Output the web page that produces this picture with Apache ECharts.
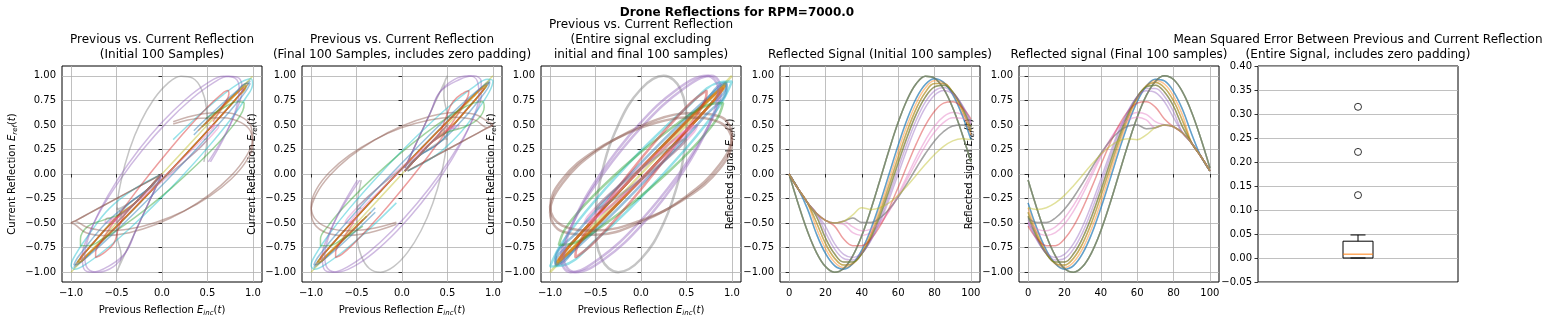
<!DOCTYPE html>
<html><head><meta charset="utf-8">
<script src="https://cdn.jsdelivr.net/npm/echarts@6/dist/echarts.min.js"></script>
<style>html,body{margin:0;padding:0;background:#fff}#c{width:1551px;height:324px}</style>
</head><body><div id="c"></div>
<script>
// ---------------- DATA ----------------
// sample index of each stored point (initial / final 100-sample windows)
const sampleIndex = [0,5,10,15,20,25,30,35,40,45,50,55,60,65,70,75,80,85,90,95,100];
// phase (deg) of the stored points for one cycle of the middle part of the signal
const phaseDeg = [0,30,60,90,120,150,180,210,240,270,300,330,360];

// Reflection waveforms (one row per distinct reflection shape)
const initialByShape = [
  [0,-0.303,-0.578,-0.798,-0.943,-1.000,-0.962,-0.834,-0.627,-0.361,-0.062,0.244,0.526,0.759,0.921,0.996,0.977,0.866,0.674,0.418,0.123],
  [0,-0.152,-0.350,-0.608,-0.809,-0.933,-0.970,-0.915,-0.774,-0.560,-0.294,0.000,0.294,0.560,0.774,0.915,0.970,0.933,0.809,0.608,0.350],
  [0,-0.152,-0.289,-0.551,-0.760,-0.899,-0.953,-0.917,-0.795,-0.598,-0.344,-0.059,0.233,0.501,0.723,0.878,0.949,0.931,0.825,0.642,0.398],
  [0,-0.152,-0.289,-0.491,-0.708,-0.858,-0.928,-0.910,-0.807,-0.628,-0.390,-0.115,0.171,0.441,0.669,0.834,0.921,0.921,0.834,0.669,0.441],
  [0,-0.152,-0.289,-0.430,-0.652,-0.813,-0.897,-0.897,-0.813,-0.652,-0.430,-0.167,0.112,0.380,0.612,0.786,0.887,0.904,0.836,0.690,0.478],
  [0,-0.152,-0.289,-0.399,-0.594,-0.763,-0.861,-0.877,-0.811,-0.669,-0.464,-0.215,0.054,0.318,0.552,0.734,0.847,0.881,0.831,0.703,0.509],
  [0,-0.152,-0.289,-0.399,-0.533,-0.709,-0.818,-0.850,-0.802,-0.678,-0.491,-0.258,0.000,0.258,0.491,0.678,0.802,0.850,0.818,0.709,0.533],
  [0,-0.152,-0.289,-0.399,-0.472,-0.531,-0.662,-0.730,-0.730,-0.662,-0.531,-0.350,-0.136,0.091,0.309,0.498,0.640,0.722,0.736,0.681,0.561],
  [0,-0.152,-0.289,-0.399,-0.472,-0.500,-0.512,-0.598,-0.627,-0.598,-0.512,-0.378,-0.208,-0.019,0.172,0.346,0.489,0.585,0.626,0.608,0.533],
  [0,-0.152,-0.289,-0.399,-0.472,-0.500,-0.481,-0.539,-0.577,-0.561,-0.491,-0.376,-0.225,-0.053,0.124,0.289,0.427,0.525,0.574,0.568,0.509],
  [0,-0.152,-0.289,-0.399,-0.472,-0.500,-0.481,-0.448,-0.494,-0.494,-0.448,-0.359,-0.237,-0.092,0.061,0.209,0.337,0.433,0.488,0.498,0.461],
  [0,-0.152,-0.289,-0.399,-0.472,-0.500,-0.481,-0.417,-0.344,-0.361,-0.344,-0.295,-0.218,-0.120,-0.011,0.099,0.199,0.281,0.337,0.360,0.350]
];
const finalByShape = [
  [-0.062,-0.361,-0.627,-0.834,-0.962,-1.000,-0.943,-0.798,-0.578,-0.303,0.000,0.303,0.578,0.798,0.943,1.000,0.962,0.834,0.627,0.361,0.062],
  [-0.294,-0.561,-0.774,-0.915,-0.970,-0.933,-0.809,-0.608,-0.350,-0.060,0.237,0.510,0.736,0.893,0.966,0.948,0.840,0.654,0.405,0.181,0.031],
  [-0.344,-0.597,-0.794,-0.917,-0.953,-0.899,-0.760,-0.551,-0.289,0.000,0.289,0.551,0.760,0.899,0.953,0.917,0.794,0.597,0.313,0.181,0.031],
  [-0.390,-0.628,-0.807,-0.910,-0.928,-0.858,-0.708,-0.491,-0.227,0.057,0.337,0.584,0.777,0.896,0.932,0.879,0.744,0.539,0.313,0.181,0.031],
  [-0.430,-0.652,-0.813,-0.897,-0.897,-0.813,-0.652,-0.430,-0.167,0.112,0.380,0.612,0.786,0.887,0.904,0.836,0.690,0.478,0.313,0.181,0.031],
  [-0.464,-0.669,-0.811,-0.877,-0.861,-0.763,-0.594,-0.368,-0.108,0.162,0.417,0.633,0.789,0.871,0.871,0.789,0.633,0.417,0.313,0.181,0.031],
  [-0.491,-0.678,-0.802,-0.850,-0.818,-0.709,-0.533,-0.307,-0.053,0.207,0.447,0.645,0.783,0.847,0.830,0.736,0.573,0.417,0.313,0.181,0.031],
  [-0.531,-0.662,-0.730,-0.730,-0.662,-0.531,-0.350,-0.136,0.091,0.309,0.498,0.640,0.722,0.736,0.681,0.561,0.481,0.417,0.313,0.181,0.031],
  [-0.512,-0.598,-0.627,-0.598,-0.512,-0.378,-0.208,-0.019,0.172,0.346,0.489,0.585,0.626,0.608,0.533,0.500,0.481,0.417,0.313,0.181,0.031],
  [-0.491,-0.561,-0.577,-0.539,-0.450,-0.319,-0.158,0.018,0.192,0.348,0.472,0.551,0.578,0.551,0.472,0.500,0.481,0.417,0.313,0.181,0.031],
  [-0.448,-0.494,-0.494,-0.448,-0.359,-0.237,-0.092,0.061,0.209,0.337,0.433,0.488,0.498,0.461,0.472,0.500,0.481,0.417,0.313,0.181,0.031],
  [-0.344,-0.361,-0.344,-0.295,-0.218,-0.120,-0.011,0.099,0.199,0.281,0.337,0.360,0.350,0.399,0.472,0.500,0.481,0.417,0.313,0.181,0.031]
];
const middleByShape = [
  [0,-0.5,-0.866,-1,-0.866,-0.5,0,0.5,0.866,1,0.866,0.5,0],
  [0.237,-0.265,-0.697,-0.941,-0.933,-0.675,-0.237,0.265,0.697,0.941,0.933,0.675,0.237],
  [0.289,-0.204,-0.642,-0.908,-0.931,-0.705,-0.289,0.204,0.642,0.908,0.931,0.705,0.289],
  [0.337,-0.143,-0.584,-0.869,-0.921,-0.726,-0.337,0.143,0.584,0.869,0.921,0.726,0.337],
  [0.380,-0.084,-0.525,-0.825,-0.904,-0.741,-0.380,0.084,0.525,0.825,0.904,0.741,0.380],
  [0.417,-0.027,-0.464,-0.776,-0.881,-0.749,-0.417,0.027,0.464,0.776,0.881,0.749,0.417],
  [0.447,0.026,-0.402,-0.723,-0.850,-0.749,-0.447,-0.026,0.402,0.723,0.850,0.749,0.447],
  [0.498,0.158,-0.224,-0.546,-0.722,-0.704,-0.498,-0.158,0.224,0.546,0.722,0.704,0.498],
  [0.489,0.226,-0.096,-0.393,-0.585,-0.620,-0.489,-0.226,0.096,0.393,0.585,0.620,0.489],
  [0.472,0.242,-0.053,-0.334,-0.525,-0.576,-0.472,-0.242,0.053,0.334,0.525,0.576,0.472],
  [0.433,0.250,0.000,-0.250,-0.433,-0.500,-0.433,-0.250,0.000,0.250,0.433,0.500,0.433],
  [0.337,0.226,0.055,-0.130,-0.281,-0.357,-0.337,-0.226,-0.055,0.130,0.281,0.357,0.337]
];
// which shape each successive reflection has
const reflectionShape = [1,2,3,4,5,0,8,10,0,0,1,3,4,7,6,0,9,10,11];

// MSE box plot: [lower whisker, Q1, median, Q3, upper whisker] and outliers
const mseBoxStats = [0.000, 0.000, 0.008, 0.035, 0.048];
const mseOutliers = [0.131, 0.221, 0.315];

// tick values
const phaseTicks = [-1, -0.5, 0, 0.5, 1];
const ampTicks = [-1, -0.75, -0.5, -0.25, 0, 0.25, 0.5, 0.75, 1];
const sampleTicks = [0, 20, 40, 60, 80, 100];

// texts
const suptitle = 'Drone Reflections for RPM=7000.0';
const panelTitles = [
  'Previous vs. Current Reflection\n(Initial 100 Samples)',
  'Previous vs. Current Reflection\n(Final 100 Samples, includes zero padding)',
  'Previous vs. Current Reflection\n(Entire signal excluding\ninitial and final 100 samples)',
  'Reflected Signal (Initial 100 samples)',
  'Reflected signal (Final 100 samples)',
  'Mean Squared Error Between Previous and Current Reflection\n(Entire Signal, includes zero padding)'
];

// ---------------- STYLE / LAYOUT ----------------
const FONT = 'DejaVu Sans';
const tab10 = ['#1f77b4','#ff7f0e','#2ca02c','#d62728','#9467bd','#8c564b','#e377c2','#7f7f7f','#bcbd22','#17becf'];
const gridLeft = [62, 302, 541, 780, 1019, 1258];
const GT = 66, GW = 200, GH = 216;

const nameRich = {
  n: {fontSize: 10, fontFamily: FONT, color: '#000', lineHeight: 14},
  e: {fontSize: 10, fontFamily: FONT, fontStyle: 'italic', color: '#000', lineHeight: 14},
  s: {fontSize: 7, fontFamily: FONT, fontStyle: 'italic', color: '#000', lineHeight: 8, verticalAlign: 'bottom'}
};
const xName = '{n|Previous Reflection }{e|E}{s|inc}{n|(}{e|t}{n|)}';
const yNameCur = '{n|Current Reflection }{e|E}{s|ref}{n|(}{e|t}{n|)}';
const yNameSig = '{n|Reflected signal }{e|E}{s|ref}{n|(}{e|t}{n|)}';

function fmt(d) {
  return v => { if (Math.abs(v) < 1e-9) v = 0; return v.toFixed(d).replace('-', '\u2212'); };
}
function valAxis(gi, min, max, ticks, dec, extra) {
  return Object.assign({
    type: 'value', gridIndex: gi, min: min, max: max,
    axisLine: {show: false},
    axisTick: {show: true, customValues: ticks, length: 3.5, lineStyle: {color: '#000', width: 0.8}},
    axisLabel: {customValues: ticks, formatter: fmt(dec), fontSize: 10, color: '#000', fontFamily: FONT, margin: 6},
    splitLine: {show: true, lineStyle: {color: '#b0b0b0', width: 0.8}}
  }, extra || {});
}

const grids = gridLeft.map(l => ({left: l, top: GT, width: GW, height: GH, show: true,
  borderColor: '#000', borderWidth: 1, backgroundColor: 'transparent', containLabel: false, outerBoundsMode: 'none'}));

const xAxes = [], yAxes = [];
for (let i = 0; i < 3; i++) {
  xAxes.push(valAxis(i, -1.1, 1.1, phaseTicks, 1, {name: xName, nameLocation: 'middle', nameGap: 21, nameTextStyle: {rich: nameRich}}));
  yAxes.push(valAxis(i, -1.1, 1.1, ampTicks, 2, {name: yNameCur, nameLocation: 'middle', nameGap: 43, nameRotate: 90, nameTextStyle: {rich: nameRich}}));
}
for (let i = 3; i < 5; i++) {
  xAxes.push(valAxis(i, -5, 105, sampleTicks, 0));
  yAxes.push(valAxis(i, -1.1, 1.1, ampTicks, 2, {name: yNameSig, nameLocation: 'middle', nameGap: 43, nameRotate: 90, nameTextStyle: {rich: nameRich}}));
}
xAxes.push({type: 'value', gridIndex: 5, min: 0.5, max: 1.5, axisLine: {show: false}, axisTick: {show: false}, axisLabel: {show: false}, splitLine: {show: false}});
yAxes.push({type: 'value', gridIndex: 5, min: -0.05, max: 0.40, interval: 0.05,
  axisLine: {show: false},
  axisTick: {show: true, length: 3.5, lineStyle: {color: '#000', width: 0.8}},
  axisLabel: {formatter: fmt(2), fontSize: 10, color: '#000', fontFamily: FONT, margin: 6},
  splitLine: {show: true, lineStyle: {color: '#b0b0b0', width: 0.8}}});

const series = [];
const LW = 1.5, OP = 0.45;
function lineSeries(axis, data, color, width) {
  return {type: 'line', xAxisIndex: axis, yAxisIndex: axis, data: data, showSymbol: false, symbol: 'none',
    smooth: 0.4, lineStyle: {color: color, width: width, opacity: OP}, emphasis: {disabled: true}, silent: true, clip: true};
}
const nRef = reflectionShape.length;
// panels 1-3: previous vs current reflection
for (let k = 0; k < nRef - 1; k++) {
  const p = reflectionShape[k], c = reflectionShape[k + 1], col = tab10[k % 10];
  series.push(lineSeries(0, initialByShape[p].map((v, i) => [v, initialByShape[c][i]]), col, LW));
}
for (let k = 0; k < nRef - 1; k++) {
  const p = reflectionShape[k], c = reflectionShape[k + 1], col = tab10[k % 10];
  series.push(lineSeries(1, finalByShape[p].map((v, i) => [v, finalByShape[c][i]]), col, LW));
}
for (let k = 0; k < nRef - 1; k++) {
  const p = reflectionShape[k], c = reflectionShape[k + 1], col = tab10[k % 10];
  series.push(lineSeries(2, middleByShape[p].map((v, i) => [v, middleByShape[c][i]]), col, 2.5));
}
// panels 4-5: reflected signals
for (let r = 0; r < nRef; r++) {
  series.push(lineSeries(3, sampleIndex.map((t, i) => [t, initialByShape[reflectionShape[r]][i]]), tab10[r % 10], LW));
}
for (let r = 0; r < nRef; r++) {
  series.push(lineSeries(4, sampleIndex.map((t, i) => [t, finalByShape[reflectionShape[r]][i]]), tab10[r % 10], LW));
}
// panel 6: box plot
series.push({
  type: 'custom', xAxisIndex: 5, yAxisIndex: 5, data: [[1]], silent: true,
  renderItem: function (params, api) {
    const lo = mseBoxStats[0], q1 = mseBoxStats[1], med = mseBoxStats[2], q3 = mseBoxStats[3], hi = mseBoxStats[4];
    const cx = api.coord([api.value(0), 0])[0];
    const y = v => api.coord([1, v])[1];
    const hw = 15, cw = 7.5;
    const st = {stroke: '#000', lineWidth: 1, fill: null};
    return {type: 'group', children: [
      {type: 'line', shape: {x1: cx, y1: y(q3), x2: cx, y2: y(hi)}, style: st},
      {type: 'line', shape: {x1: cx, y1: y(q1), x2: cx, y2: y(lo)}, style: st},
      {type: 'line', shape: {x1: cx - cw, y1: y(hi), x2: cx + cw, y2: y(hi)}, style: st},
      {type: 'line', shape: {x1: cx - cw, y1: y(lo), x2: cx + cw, y2: y(lo)}, style: st},
      {type: 'rect', shape: {x: cx - hw, y: y(q3), width: 2 * hw, height: y(q1) - y(q3)}, style: {stroke: '#000', lineWidth: 1, fill: 'rgba(0,0,0,0)'}},
      {type: 'line', shape: {x1: cx - hw, y1: y(med), x2: cx + hw, y2: y(med)}, style: {stroke: '#ff7f0e', lineWidth: 1}}
    ]};
  }
});
series.push({type: 'scatter', xAxisIndex: 5, yAxisIndex: 5, data: mseOutliers.map(v => [1, v]), symbol: 'circle', symbolSize: 7,
  itemStyle: {color: 'rgba(0,0,0,0)', borderColor: '#000', borderWidth: 1}, silent: true});

// titles
const graphics = [{type: 'text', x: 737, y: 13, style: {text: suptitle, font: 'bold 12px "DejaVu Sans"', fill: '#000', align: 'center', verticalAlign: 'middle'}}];
panelTitles.forEach((t, i) => {
  const lines = t.split('\n').length;
  const lastCenter = 54.5;
  const top = lastCenter - 7.5 - 15 * (lines - 1);
  graphics.push({type: 'text', x: gridLeft[i] + GW / 2, y: top, style: {text: t, font: '12px "DejaVu Sans"', fill: '#000', align: 'center', verticalAlign: 'top', lineHeight: 15}});
});

const chart = echarts.init(document.getElementById('c'), null, {renderer: 'canvas', width: 1551, height: 324});
chart.setOption({
  animation: false,
  backgroundColor: '#fff',
  textStyle: {fontFamily: FONT},
  grid: grids, xAxis: xAxes, yAxis: yAxes, series: series, graphic: graphics
});
</script></body></html>
